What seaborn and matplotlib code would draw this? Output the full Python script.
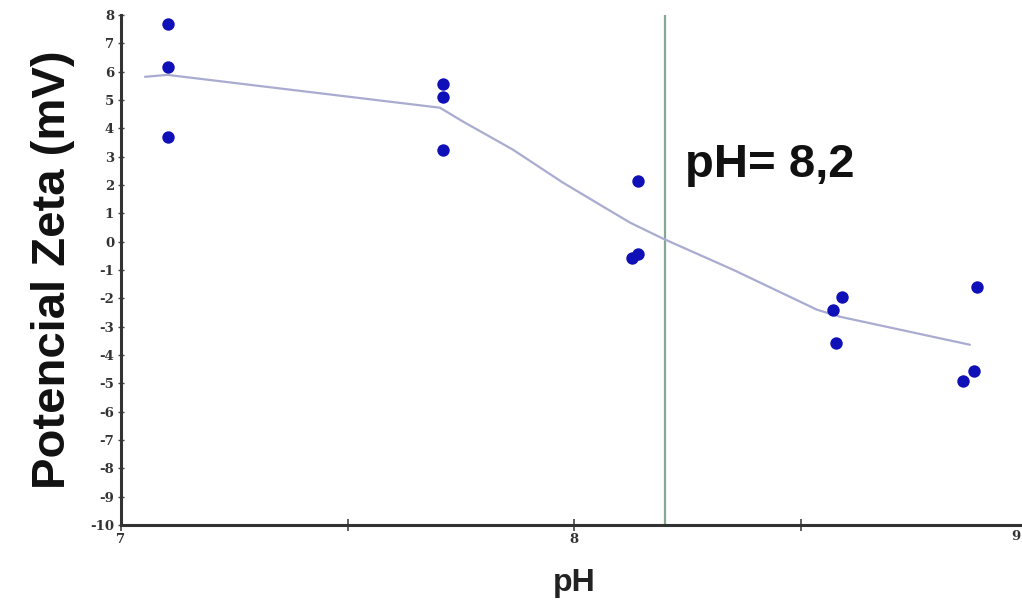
import matplotlib
matplotlib.use("Agg")
import matplotlib.pyplot as plt
import seaborn as sns
import pandas as pd

# Measured points
ph_points = [7.104, 7.104, 7.104,
             7.711, 7.711, 7.711,
             8.141, 8.128, 8.141,
             8.592, 8.572, 8.579,
             8.890, 8.883, 8.859]
zeta_points = [7.69, 6.18, 3.71,
               5.58, 5.12, 3.25,
               2.15, -0.56, -0.42,
               -1.94, -2.40, -3.57,
               -1.59, -4.55, -4.91]

# Fitted trend line
line_ph = [7.053, 7.102, 7.704, 7.755, 7.865, 7.976, 8.064, 8.124, 8.196,
           8.351, 8.536, 8.587, 8.874]
line_zeta = [5.82, 5.89, 4.73, 4.24, 3.25, 2.08, 1.24, 0.67, 0.11,
             -0.99, -2.40, -2.65, -3.64]

iep_ph = 8.2
iep_label = "pH= 8,2"

x_ticks = [7, 7.5, 8, 8.5, 9]
x_tick_labels = ["7", "", "8", "", ""]
last_x_label = "9"
y_ticks = list(range(-10, 9))

sns.set_theme(style="white")
plt.rcParams['font.family'] = ['Liberation Sans', 'DejaVu Sans']

fig = plt.figure(figsize=(10.22, 6.04), dpi=100)
ax = fig.add_axes([0.1184, 0.131, 0.8865, 0.844])

df_pts = pd.DataFrame({"pH": ph_points, "zeta": zeta_points})
df_line = pd.DataFrame({"pH": line_ph, "zeta": line_zeta})

sns.lineplot(data=df_line, x="pH", y="zeta", ax=ax, color="#a9acd0",
             linewidth=1.6, sort=False, estimator=None)
ax.axvline(iep_ph, color="#84a890", linewidth=1.6, zorder=1)
sns.scatterplot(data=df_pts, x="pH", y="zeta", ax=ax, color="#1010b8",
                s=80, edgecolor="#1010b8", linewidth=0, zorder=3)

ax.text(iep_ph + 0.044, 2.72, iep_label, fontsize=34, fontweight="bold",
        family=['Liberation Sans', 'DejaVu Sans'], va="center", ha="left",
        color="#111111")

ax.set_xlim(7, 9)
ax.set_ylim(-10, 8)
ax.set_xticks(x_ticks)
ax.set_xticklabels(x_tick_labels)
ax.set_yticks(y_ticks)
ax.set_yticklabels([str(v) for v in y_ticks])

for lab in ax.get_xticklabels() + ax.get_yticklabels():
    lab.set_family(['DejaVu Serif'])
    lab.set_fontweight("bold")
    lab.set_fontsize(9.5)
    lab.set_color("#333333")

# last x tick label sits just inside the figure edge
ax.annotate(last_x_label, xy=(x_ticks[-1], -10), xycoords="data",
            xytext=(-5, -4), textcoords="offset points",
            ha="right", va="top", family=['DejaVu Serif'],
            fontweight="bold", fontsize=9.5, color="#333333",
            annotation_clip=False)

ax.tick_params(axis="x", direction="inout", length=8, width=1.2,
               color="#444444", pad=2, bottom=True)
ax.tick_params(axis="y", direction="inout", length=4, width=1.0,
               color="#444444", pad=3, left=True)

for side in ["top", "right"]:
    ax.spines[side].set_visible(False)
for side in ["left", "bottom"]:
    ax.spines[side].set_color("#333333")
    ax.spines[side].set_linewidth(2.2)

ax.set_xlabel("pH", fontsize=23, fontweight="bold", labelpad=16,
              color="#222222")
ax.set_ylabel("Potencial Zeta (mV)", fontsize=34, fontweight="bold",
              labelpad=11, color="#111111")

fig.savefig("out.png", dpi=100, facecolor="white")
